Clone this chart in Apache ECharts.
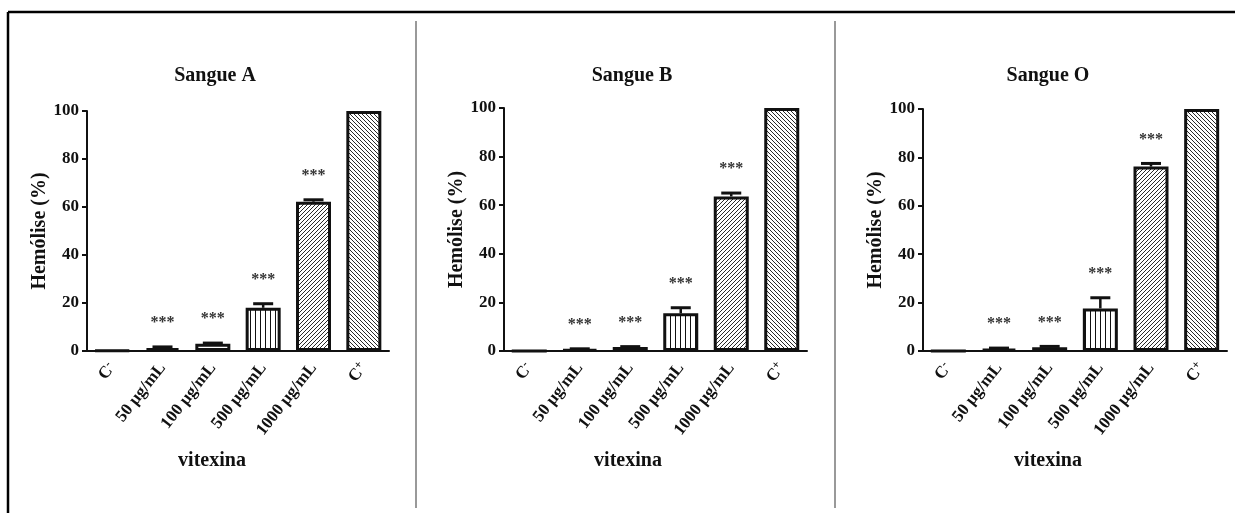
<!DOCTYPE html>
<html>
<head>
<meta charset="utf-8">
<script src="https://cdn.jsdelivr.net/npm/echarts@6/dist/echarts.min.js"></script>
<style>
html,body{margin:0;padding:0;background:#fff;}
#chart{width:1235px;height:513px;}
</style>
</head>
<body>
<div id="chart"></div>
<script>
// ---- data ----
const categories = ['C-', '50 µg/mL', '100 µg/mL', '500 µg/mL', '1000 µg/mL', 'C+'];
const panelTitles = ['Sangue A', 'Sangue B', 'Sangue O'];
const sangueA = [0.3, 1.2, 3.0, 18.0, 62.2, 100];
const errA    = [0, 0.5, 0.3, 1.7, 0.8, 0];
const sangueB = [0, 0.6, 1.6, 15.5, 63.6, 100];
const errB    = [0, 0.3, 0.2, 2.3, 1.4, 0];
const sangueO = [0, 0.9, 1.6, 17.6, 76.2, 100];
const errO    = [0, 0.3, 0.3, 4.4, 1.3, 0];
const stars   = ['', '***', '***', '***', '***', ''];
const yTicks  = [0, 20, 40, 60, 80, 100];
const yName = 'Hemólise (%)';
const xName = 'vitexina';

// ---- patterns ----
function makePattern(kind) {
  const c = document.createElement('canvas');
  const ctx = c.getContext('2d');
  if (kind === 'vert') {
    c.width = 5; c.height = 4;
    ctx.fillStyle = '#fff'; ctx.fillRect(0, 0, 5, 4);
    ctx.fillStyle = '#111'; ctx.fillRect(0, 0, 1, 4);
  } else {
    const s = 4;
    c.width = s; c.height = s;
    ctx.fillStyle = '#fff'; ctx.fillRect(0, 0, s, s);
    ctx.strokeStyle = '#2a2a2a'; ctx.lineWidth = 1;
    ctx.beginPath();
    if (kind === 'fwd') {
      ctx.moveTo(-1, s + 1); ctx.lineTo(s + 1, -1);
      ctx.moveTo(-1, 1); ctx.lineTo(1, -1);
      ctx.moveTo(s - 1, s + 1); ctx.lineTo(s + 1, s - 1);
    } else {
      ctx.moveTo(-1, -1); ctx.lineTo(s + 1, s + 1);
      ctx.moveTo(s - 1, -1); ctx.lineTo(s + 1, 1);
      ctx.moveTo(-1, s - 1); ctx.lineTo(1, s + 1);
    }
    ctx.stroke();
  }
  return { image: c, repeat: 'repeat' };
}
const fills = ['#fff', '#fff', '#fff', makePattern('vert'), makePattern('fwd'), makePattern('back')];

const FONT = 'Liberation Serif';
const panels = [
  { vals: sangueA, errs: errA, left: 87, width: 302, top: 111, height: 240, titleX: 215, nameX: 212 },
  { vals: sangueB, errs: errB, left: 504, width: 303, top: 108, height: 243, titleX: 632, nameX: 628 },
  { vals: sangueO, errs: errO, left: 923, width: 304, top: 109, height: 242, titleX: 1048, nameX: 1048 }
];

const grids = [], xAxes = [], yAxes = [], series = [], graphics = [];
panels.forEach((p, k) => {
  grids.push({ left: p.left, top: p.top, width: p.width, height: p.height, containLabel: false });
  xAxes.push({
    type: 'category', gridIndex: k, data: categories, boundaryGap: true,
    axisLine: { lineStyle: { color: '#111', width: 2 } },
    axisTick: { alignWithLabel: true, length: 7, lineStyle: { color: '#111', width: 2 } },
    axisLabel: {
      interval: 0, rotate: 52, margin: 14, color: '#111',
      fontFamily: FONT, fontWeight: 'bold', fontSize: 17,
      formatter: function (v) {
        if (v === 'C-') return '{c|C}{s|-}';
        if (v === 'C+') return '{c|C}{s|+}';
        return v;
      },
      rich: {
        c: { fontFamily: FONT, fontWeight: 'bold', fontSize: 17, color: '#111' },
        s: { fontFamily: FONT, fontWeight: 'bold', fontSize: 12, color: '#111', padding: [0, 0, 8, 0] }
      }
    }
  });
  yAxes.push({
    type: 'value', gridIndex: k, min: 0, max: 100, interval: 20,
    splitLine: { show: false },
    axisLine: { show: true, lineStyle: { color: '#111', width: 2 } },
    axisTick: { show: true, length: 5, lineStyle: { color: '#111', width: 2 } },
    axisLabel: { margin: 8, color: '#111', fontFamily: FONT, fontWeight: 'bold', fontSize: 17,
      formatter: v => yTicks.includes(v) ? String(v) : '' },
    name: yName, nameLocation: 'middle', nameRotate: 90, nameGap: 37,
    nameTextStyle: { fontFamily: FONT, fontWeight: 'bold', fontSize: 20, color: '#111' }
  });
  series.push({
    type: 'bar', xAxisIndex: k, yAxisIndex: k, barWidth: 35,
    data: p.vals.map((v, i) => ({ value: v, itemStyle: { color: fills[i] } })),
    itemStyle: { borderColor: '#111', borderWidth: 3 },
    silent: true, animation: false
  });
  series.push({
    type: 'custom', xAxisIndex: k, yAxisIndex: k, animation: false, silent: true,
    encode: { x: 0, y: 1 },
    data: p.vals.map((v, i) => [i, v, p.errs[i], i]),
    renderItem: function (params, api) {
      const i = api.value(0), v = api.value(1), e = api.value(2);
      const base = api.coord([i, v]);
      const top = api.coord([i, v + e]);
      const children = [];
      if (e > 0) {
        children.push({ type: 'line', shape: { x1: base[0], y1: base[1], x2: top[0], y2: top[1] },
          style: { stroke: '#111', lineWidth: 2.5 } });
        children.push({ type: 'line', shape: { x1: top[0] - 10, y1: top[1], x2: top[0] + 10, y2: top[1] },
          style: { stroke: '#111', lineWidth: 3 } });
      }
      const st = stars[api.value(3)];
      if (st) {
        children.push({ type: 'text', x: top[0], y: top[1] - 24,
          style: { text: st, fill: '#333', fontSize: 16, fontWeight: 'bold', fontFamily: FONT,
            align: 'center', verticalAlign: 'middle', textAlign: 'center', textVerticalAlign: 'middle' } });
      }
      return { type: 'group', children: children };
    }
  });
  graphics.push({ type: 'text', x: p.titleX, y: 76,
    style: { text: panelTitles[k], fill: '#111', font: 'bold 20px "Liberation Serif"',
      align: 'center', verticalAlign: 'middle', textAlign: 'center', textVerticalAlign: 'middle' } });
  graphics.push({ type: 'text', x: p.nameX, y: 461,
    style: { text: xName, fill: '#111', font: 'bold 20px "Liberation Serif"',
      align: 'center', verticalAlign: 'middle', textAlign: 'center', textVerticalAlign: 'middle' } });
});

// frame lines
graphics.push({ type: 'line', shape: { x1: 8, y1: 12, x2: 1235, y2: 12 }, style: { stroke: '#000', lineWidth: 2.5 } });
graphics.push({ type: 'line', shape: { x1: 8, y1: 12, x2: 8, y2: 513 }, style: { stroke: '#000', lineWidth: 2.5 } });
graphics.push({ type: 'line', shape: { x1: 416, y1: 21, x2: 416, y2: 508 }, style: { stroke: '#777', lineWidth: 1.5 } });
graphics.push({ type: 'line', shape: { x1: 835, y1: 21, x2: 835, y2: 508 }, style: { stroke: '#777', lineWidth: 1.5 } });

const chart = echarts.init(document.getElementById('chart'), null, { renderer: 'canvas' });
chart.setOption({
  animation: false,
  backgroundColor: '#fff',
  grid: grids, xAxis: xAxes, yAxis: yAxes, series: series,
  graphic: graphics
});
</script>
</body>
</html>
